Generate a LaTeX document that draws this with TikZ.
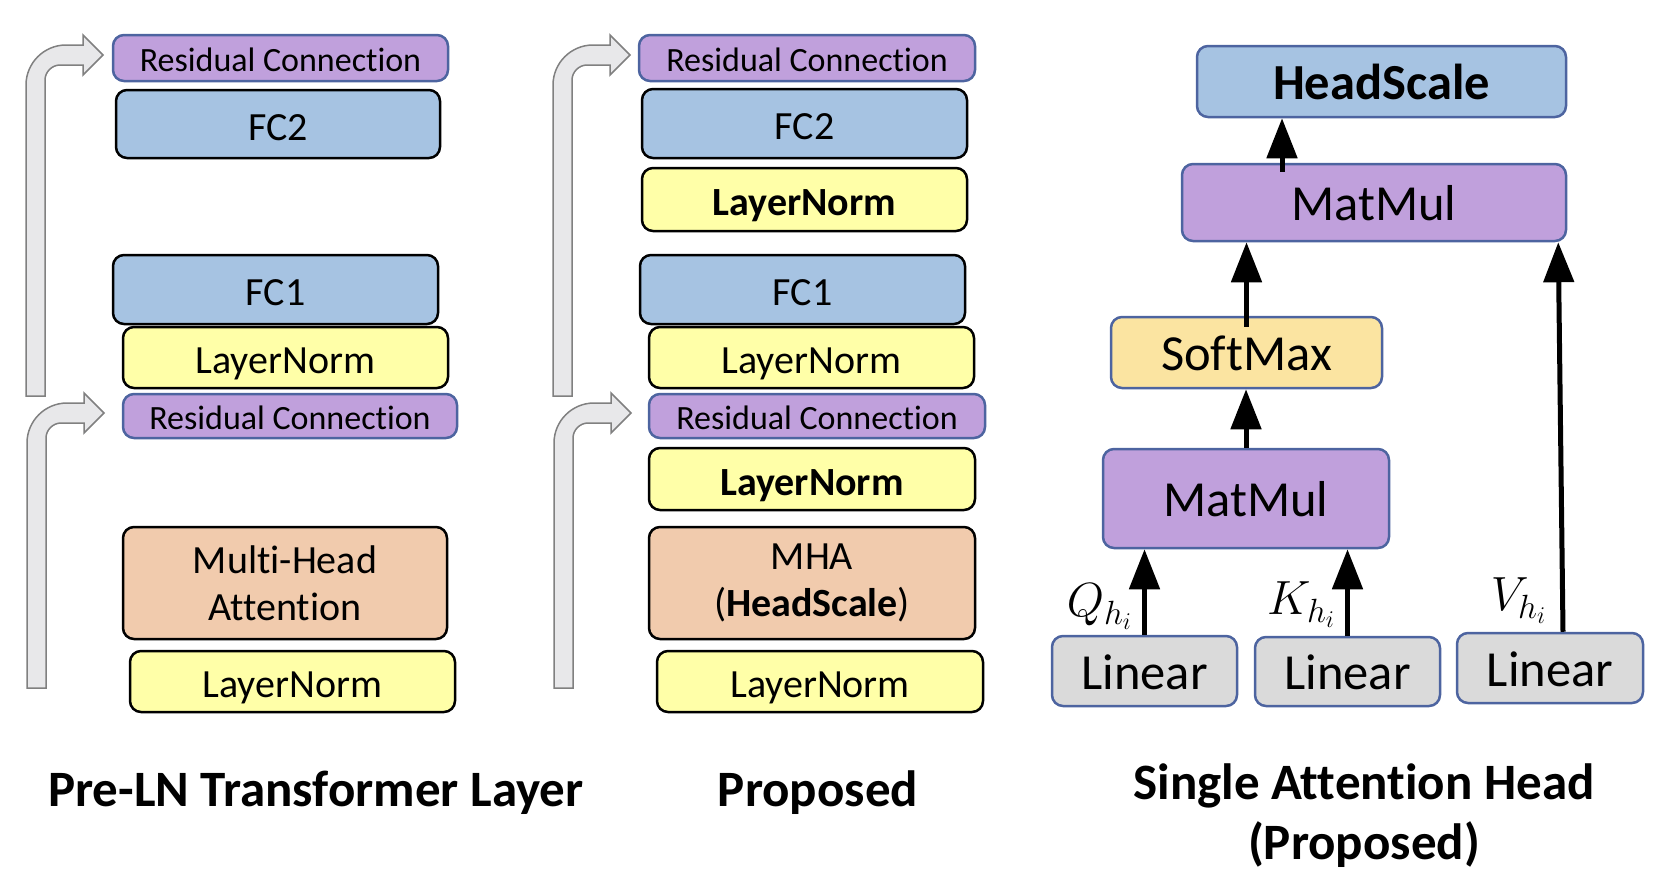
\RequirePackage{fix-cm}
\documentclass[tikz,border=0pt]{standalone}
\usepackage{fontspec}
\setmainfont{Carlito}[Ligatures=NoCommon]
\usetikzlibrary{arrows.meta}

\definecolor{residfill}{HTML}{C0A0DC}
\definecolor{blueline}{HTML}{4D64A0}
\definecolor{fcfill}{HTML}{A6C3E2}
\definecolor{lnfill}{HTML}{FFFFA8}
\definecolor{mhafill}{HTML}{F1CBAD}
\definecolor{smfill}{HTML}{FBE4A1}
\definecolor{linfill}{HTML}{DADADA}
\definecolor{gfill}{HTML}{E8E8EA}
\definecolor{gline}{HTML}{808080}

\tikzset{
  sz/.style 2 args={minimum width=#1pt, minimum height=#2pt},
  blk/.style={draw, rounded corners=11pt, line width=2.5pt, inner sep=0pt, align=center, font=\fontsize{40}{47}\selectfont},
  oneline/.style={text height=32pt, text depth=0pt},
  resid/.style={blk, text height=27pt, text depth=0pt, draw=blueline, fill=residfill, font=\fontsize{34}{40}\selectfont},
  fc/.style={blk, oneline, fill=fcfill},
  lnorm/.style={blk, oneline, fill=lnfill},
  mha/.style={blk, fill=mhafill},
  hblk/.style={blk, draw=blueline, text height=36pt, text depth=0pt, font=\fontsize{50.5}{56}\selectfont},
  arr/.style={line width=5pt, -{Triangle[length=40pt,width=30pt]}},
  qkv/.style={font=\fontsize{48}{52}\selectfont, inner sep=10pt},
  ttl/.style={font=\fontsize{51}{58}\selectfont\bfseries},
  garr/.style={fill=gfill, draw=gline, line width=1.5pt}
}

\begin{document}
\begin{tikzpicture}[x=1pt, y=-1pt]
  \useasboundingbox (0,0) rectangle (1660,876);

  % residual arrows
  \foreach \tx/\ty/\yb in {103/55/396, 104/413/688, 630/55/396, 631/413/688}
    \draw[garr] (\tx-77,\yb) -- (\tx-77,\ty+30) .. controls (\tx-77,\ty+8) and (\tx-59,\ty-10) .. (\tx-37,\ty-10)
      -- (\tx-20,\ty-10) -- (\tx-20,\ty-20) -- (\tx,\ty) -- (\tx-20,\ty+20) -- (\tx-20,\ty+10)
      -- (\tx-43,\ty+10) .. controls (\tx-51,\ty+10) and (\tx-58,\ty+17) .. (\tx-58,\ty+25) -- (\tx-58,\yb) -- cycle;

  % Pre-LN layer
  \node[resid, sz={335}{46}] (resA2) at (280.5,58) {Residual Connection};
  \node[fc, sz={324}{68}] (fcA2) at (278,124) {FC2};
  \node[fc, sz={325}{69}] (fcA1) at (275.5,289.5) {FC1};
  \node[lnorm, sz={325}{61}] (lnA2) at (285.5,357.5) {LayerNorm};
  \node[resid, sz={334}{44}] (resA1) at (290,416) {Residual Connection};
  \node[mha, sz={324}{112}] (mhaA) at (285,583) {Multi-Head\\Attention};
  \node[lnorm, sz={325}{61}] (lnA1) at (292.5,681.5) {LayerNorm};

  % proposed layer
  \node[resid, sz={336}{46}] (resB2) at (807,58) {Residual Connection};
  \node[fc, sz={325}{69}] (fcB2) at (804.5,123.5) {FC2};
  \node[lnorm, sz={325}{63}] (lnB4) at (804.5,199.5) {\textbf{LayerNorm}};
  \node[fc, sz={325}{69}] (fcB1) at (802.5,289.5) {FC1};
  \node[lnorm, sz={325}{61}] (lnB3) at (811.5,357.5) {LayerNorm};
  \node[resid, sz={336}{44}] (resB1) at (817,416) {Residual Connection};
  \node[lnorm, sz={326}{62}] (lnB2) at (812,479) {\textbf{LayerNorm}};
  \node[mha, sz={326}{112}] (mhaB) at (812,583) {MHA\\(\textbf{HeadScale})};
  \node[lnorm, sz={326}{61}] (lnB1) at (820,681.5) {LayerNorm};

  % attention head
  \node[hblk, fill=fcfill, sz={369}{71}] (hs) at (1381.5,81.5) {\textbf{HeadScale}};
  \node[hblk, fill=residfill, sz={384}{77}] (mmT) at (1374,202.5) {MatMul};
  \node[hblk, fill=smfill, sz={271}{71}] (sm) at (1246.5,352.5) {SoftMax};
  \node[hblk, fill=residfill, sz={286}{99}] (mmB) at (1246,498.5) {MatMul};
  \node[hblk, fill=linfill, sz={185}{70}] (linQ) at (1144.5,671) {Linear};
  \node[hblk, fill=linfill, sz={185}{69}] (linK) at (1347.5,671.5) {Linear};
  \node[hblk, fill=linfill, sz={186}{70}] (linV) at (1550,668) {Linear};

  \draw[arr] ([xshift=-92pt,yshift=-9pt]mmT.north) -- ([xshift=-99.5pt]hs.south);
  \draw[arr] ([yshift=-11pt]sm.north) -- (mmT.south -| sm.north);
  \draw[arr] (mmB.north) -- (sm.south -| mmB.north);
  \draw[arr] (linQ.north) -- node[qkv, left, pos=0.33] {$Q_{h_i}$} (mmB.south -| linQ.north);
  \draw[arr] (linK.north) -- node[qkv, left, pos=0.36] {$K_{h_i}$} (mmB.south -| linK.north);
  \draw[arr] ([xshift=13pt]linV.north) -- node[qkv, left, pos=0.08, inner sep=14pt] {$V_{h_i}$} ([xshift=-9pt]mmT.south east);

  % titles
  \node[ttl, anchor=base] (t1) at (316,806) {Pre-LN Transformer Layer};
  \node[ttl, anchor=base] (t2) at (818,806) {Proposed};
  \node[ttl, anchor=base] (t3) at (1364,799) {Single Attention Head};
  \node[ttl, anchor=base] (t4) at (1364,859) {(Proposed)};
\end{tikzpicture}
\end{document}
